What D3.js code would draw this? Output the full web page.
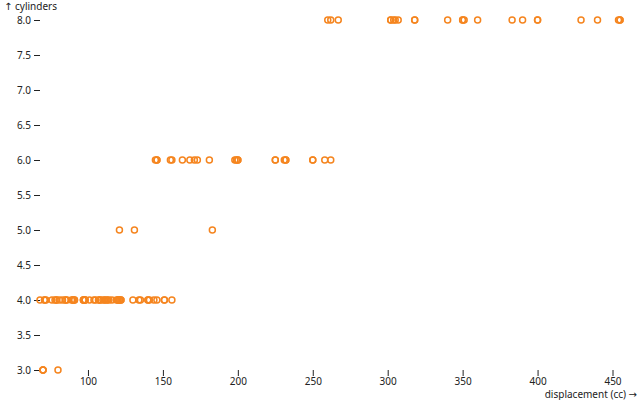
<!DOCTYPE html>
<meta charset="utf-8">
<script src="https://d3js.org/d3.v7.min.js"></script>
<style>
  body { margin: 0; background: #fff; }
  svg { font-family: "Noto Sans", sans-serif; font-size: 10px; }
  .arrow { font-family: "DejaVu Sans", sans-serif; }
</style>
<body>
<div id="my_dataviz"></div>
<script>
// displacement (cc) and cylinders, one entry per car
var displacement = [
  70, 70, 70, 80,
  68, 71, 71, 72, 76, 78, 79, 79, 81, 83, 85, 85, 86, 89, 90, 90, 91, 91,
  97, 97, 97, 98, 98, 98, 101, 104, 105, 107, 108, 108, 110, 111, 112, 113,
  114, 116, 119, 120, 120, 121, 121, 122, 122, 130, 134, 135, 140, 140, 141,
  144, 146, 151, 151, 156,
  121, 131, 183,
  145, 146, 146, 155, 156, 163, 168, 171, 173, 181, 198, 199, 200, 200,
  225, 225, 231, 232, 232, 250, 250, 258, 262,
  260, 262, 267, 302, 302, 304, 305, 307, 318, 318, 340, 350, 350, 351,
  360, 383, 390, 400, 400, 429, 440, 454, 455, 455
]
var cylinders = [
  3, 3, 3, 3,
  4, 4, 4, 4, 4, 4, 4, 4, 4, 4, 4, 4, 4, 4, 4, 4, 4, 4,
  4, 4, 4, 4, 4, 4, 4, 4, 4, 4, 4, 4, 4, 4, 4, 4,
  4, 4, 4, 4, 4, 4, 4, 4, 4, 4, 4, 4, 4, 4, 4,
  4, 4, 4, 4, 4,
  5, 5, 5,
  6, 6, 6, 6, 6, 6, 6, 6, 6, 6, 6, 6, 6, 6,
  6, 6, 6, 6, 6, 6, 6, 6, 6,
  8, 8, 8, 8, 8, 8, 8, 8, 8, 8, 8, 8, 8, 8,
  8, 8, 8, 8, 8, 8, 8, 8, 8, 8
]
var xTicks = [100, 150, 200, 250, 300, 350, 400, 450]
var yTicks = [3.0, 3.5, 4.0, 4.5, 5.0, 5.5, 6.0, 6.5, 7.0, 7.5, 8.0]

var width = 640,
    height = 400,
    margin = {top: 20, right: 20, bottom: 30, left: 40}

var svg = d3.select("#my_dataviz")
  .append("svg")
  .attr("width", width)
  .attr("height", height)

var x = d3.scaleLinear()
  .domain(d3.extent(displacement))
  .range([margin.left, width - margin.right])

var y = d3.scaleLinear()
  .domain(d3.extent(cylinders))
  .range([height - margin.bottom, margin.top])

// y axis: tick marks and labels, no domain line
var yAxis = svg.append("g")
  .attr("transform", "translate(" + margin.left + ",0)")
  .call(d3.axisLeft(y).tickValues(yTicks).tickFormat(d3.format(".1f")).tickSize(6).tickPadding(3))
  .attr("font-family", null)
  .attr("font-size", null)
yAxis.select(".domain").remove()
yAxis.selectAll("line").attr("stroke", "#222")
yAxis.selectAll("text").attr("fill", "#222")
var yLabel = yAxis.append("text")
  .attr("x", -margin.left + 4)
  .attr("y", 10)
  .attr("fill", "#222")
  .attr("text-anchor", "start")
yLabel.append("tspan").attr("class", "arrow").text("↑")
yLabel.append("tspan").text(" cylinders")

// x axis
var xAxis = svg.append("g")
  .attr("transform", "translate(0," + (height - margin.bottom) + ")")
  .call(d3.axisBottom(x).tickValues(xTicks).tickSize(6).tickPadding(2))
  .attr("font-family", null)
  .attr("font-size", null)
xAxis.select(".domain").remove()
xAxis.selectAll("line").attr("stroke", "#222")
xAxis.selectAll("text").attr("fill", "#222")
var xLabel = xAxis.append("text")
  .attr("x", width - margin.right + 17)
  .attr("y", 28)
  .attr("fill", "#222")
  .attr("text-anchor", "end")
xLabel.append("tspan").text("displacement (cc) ")
xLabel.append("tspan").attr("class", "arrow").text("→")

// dots
svg.append("g")
  .selectAll("circle")
  .data(displacement)
  .enter()
  .append("circle")
  .attr("cx", function(d) { return x(d) })
  .attr("cy", function(d, i) { return y(cylinders[i]) })
  .attr("r", 3)
  .attr("fill", "none")
  .attr("stroke", "#f5851f")
  .attr("stroke-width", 1.5)
</script>
</body>
